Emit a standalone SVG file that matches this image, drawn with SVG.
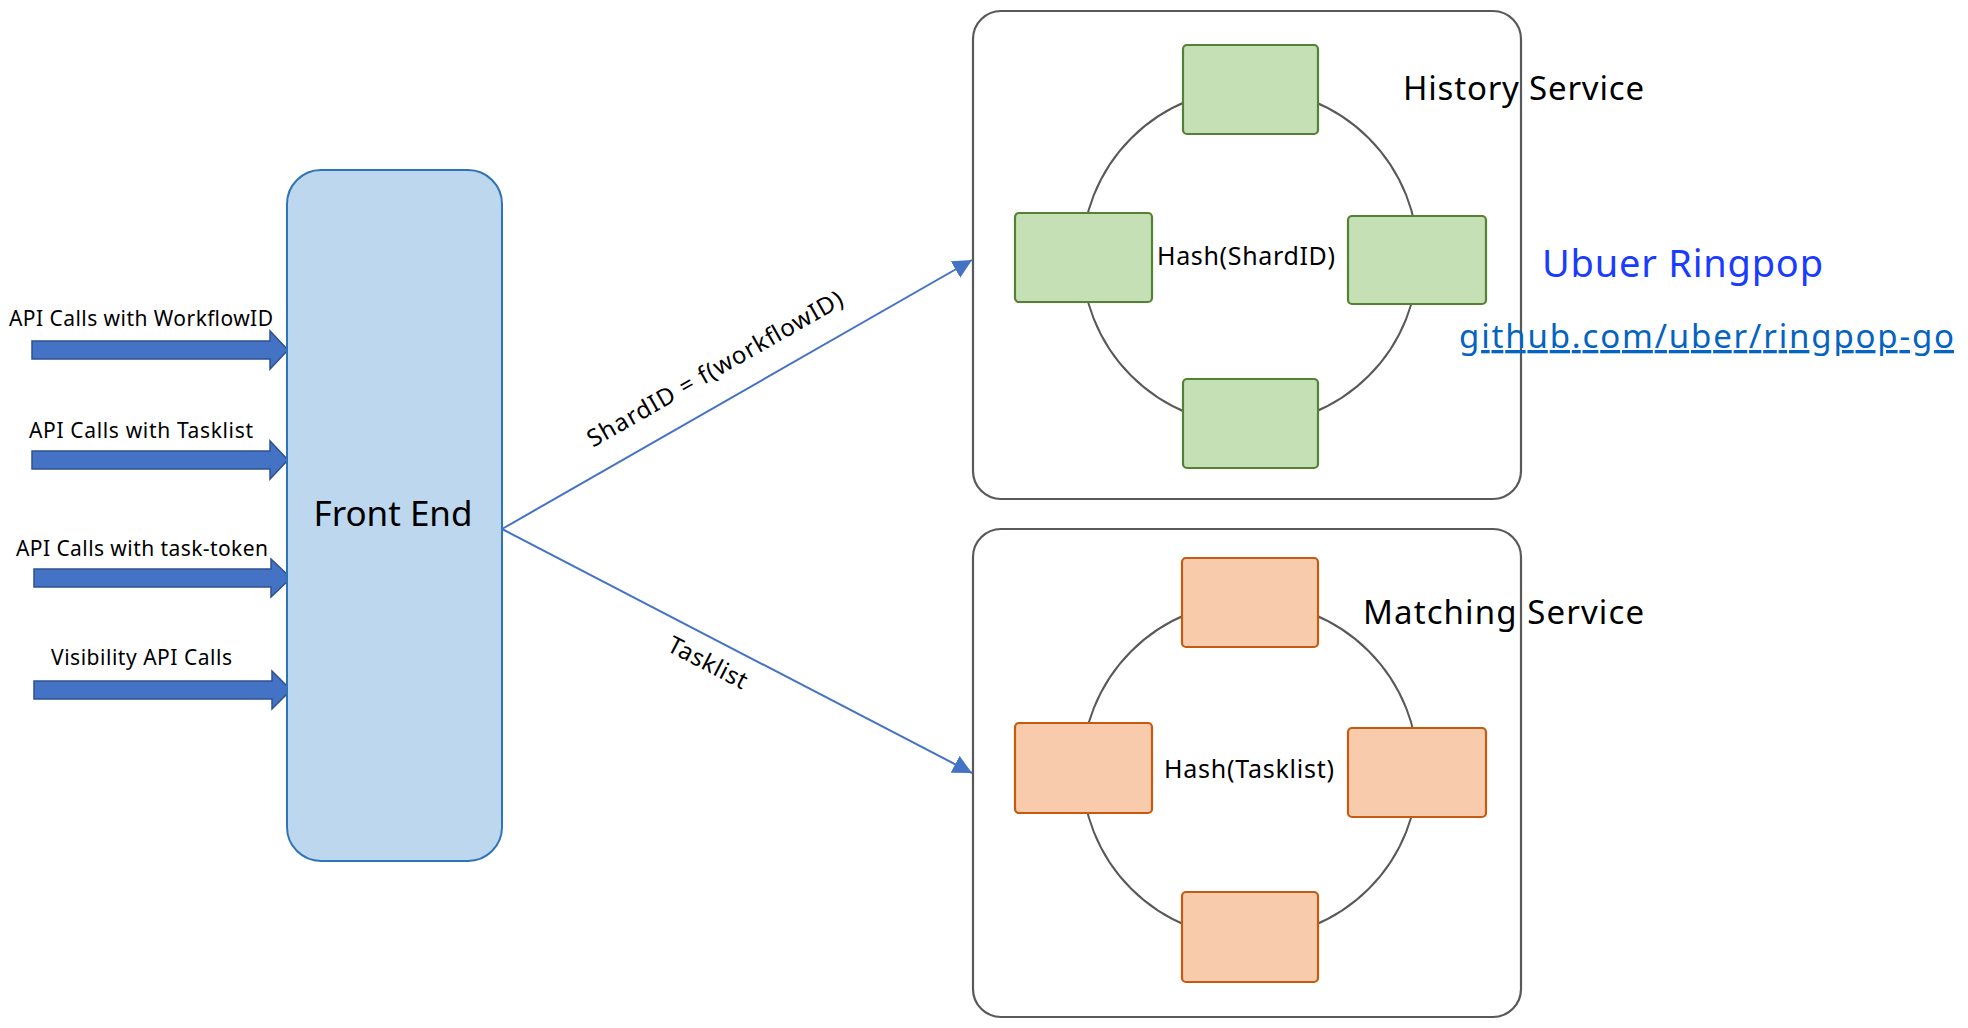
<svg xmlns="http://www.w3.org/2000/svg" width="1968" height="1028" viewBox="0 0 1968 1028">
  <style>
    text { font-family: "Noto Sans", "Open Sans", "DejaVu Sans", sans-serif; fill: #000; }
    .in-arrow { fill: #4472C4; stroke: #2F528F; stroke-width: 1.5; }
    .in-label { font-size: 21px; }
    .svc-box { fill: #fff; stroke: #595959; stroke-width: 2.2; }
    .ring { fill: none; stroke: #595959; stroke-width: 2; }
    .h-node { fill: #C5E0B4; stroke: #548235; stroke-width: 2.2; }
    .m-node { fill: #F8CBAD; stroke: #C55A11; stroke-width: 2.2; }
    .svc-title { font-size: 33px; }
    .hash { font-size: 25px; }
    .edge { stroke: #4472C4; stroke-width: 2; fill: none; }
    .edge-label { font-size: 24px; }
  </style>
  <defs>
    <marker id="triBig" viewBox="0 0 10 10" refX="10" refY="5" markerWidth="19" markerHeight="19" markerUnits="userSpaceOnUse" orient="auto">
      <path d="M0,0 L10,5 L0,10 Z" fill="#4472C4"/>
    </marker>
  </defs>

  <!-- incoming API calls -->
  <g id="api-workflowid">
    <polygon class="in-arrow" points="32,341 270,341 270,331 288,350 270,369 270,359 32,359"/>
    <text class="in-label" x="9" y="326" textLength="264">API Calls with WorkflowID</text>
  </g>
  <g id="api-tasklist">
    <polygon class="in-arrow" points="32,451 270,451 270,441 288,460 270,479 270,469 32,469"/>
    <text class="in-label" x="29" y="438" textLength="224">API Calls with Tasklist</text>
  </g>
  <g id="api-task-token">
    <polygon class="in-arrow" points="34,569 271,569 271,559 291,578 271,597 271,587 34,587"/>
    <text class="in-label" x="16" y="556" textLength="252">API Calls with task-token</text>
  </g>
  <g id="api-visibility">
    <polygon class="in-arrow" points="34,681 272,681 272,671 291,690 272,709 272,699 34,699"/>
    <text class="in-label" x="51" y="665" textLength="181">Visibility API Calls</text>
  </g>

  <!-- front end -->
  <g id="front-end">
    <rect x="287" y="170" width="215" height="691" rx="34" ry="34" fill="#BDD7EE" stroke="#2E75B6" stroke-width="2"/>
    <text x="393" y="526" font-size="35" text-anchor="middle" textLength="159">Front End</text>
  </g>

  <!-- history service -->
  <g id="history-service">
    <rect class="svc-box" x="973" y="11" width="548" height="488" rx="28" ry="28"/>
    <circle class="ring" cx="1250" cy="257" r="168"/>
    <rect class="h-node" x="1183" y="45" width="135" height="89" rx="4"/>
    <rect class="h-node" x="1015" y="213" width="137" height="89" rx="4"/>
    <rect class="h-node" x="1348" y="216" width="138" height="88" rx="4"/>
    <rect class="h-node" x="1183" y="379" width="135" height="89" rx="4"/>
    <text class="hash" x="1246" y="265" text-anchor="middle" textLength="178">Hash(ShardID)</text>
    <text class="svc-title" x="1403" y="100" textLength="241">History Service</text>
  </g>

  <!-- matching service -->
  <g id="matching-service">
    <rect class="svc-box" x="973" y="529" width="548" height="488" rx="28" ry="28"/>
    <circle class="ring" cx="1250" cy="770" r="168"/>
    <rect class="m-node" x="1182" y="558" width="136" height="89" rx="4"/>
    <rect class="m-node" x="1015" y="723" width="137" height="90" rx="4"/>
    <rect class="m-node" x="1348" y="728" width="138" height="89" rx="4"/>
    <rect class="m-node" x="1182" y="892" width="136" height="90" rx="4"/>
    <text class="hash" x="1249" y="778" text-anchor="middle" textLength="170">Hash(Tasklist)</text>
    <text class="svc-title" x="1363" y="624" textLength="281">Matching Service</text>
  </g>

  <!-- ringpop reference -->
  <g id="ringpop">
    <text x="1542" y="277" font-size="38" style="fill:#1A3CFF" textLength="281">Ubuer Ringpop</text>
    <text x="1459" y="348" font-size="33" style="fill:#0563C1" text-decoration="underline" textLength="495">github.com/uber/ringpop-go</text>
  </g>

  <!-- routing connectors -->
  <g id="connectors">
    <line class="edge" x1="502" y1="529" x2="972" y2="260" marker-end="url(#triBig)"/>
    <line class="edge" x1="502" y1="529" x2="972" y2="773" marker-end="url(#triBig)"/>
    <text class="edge-label" transform="translate(719,376) rotate(-29.7)" text-anchor="middle" textLength="290">ShardID = f(workflowID)</text>
    <text class="edge-label" transform="translate(704,670) rotate(27.3)" text-anchor="middle" textLength="86">Tasklist</text>
  </g>
</svg>
